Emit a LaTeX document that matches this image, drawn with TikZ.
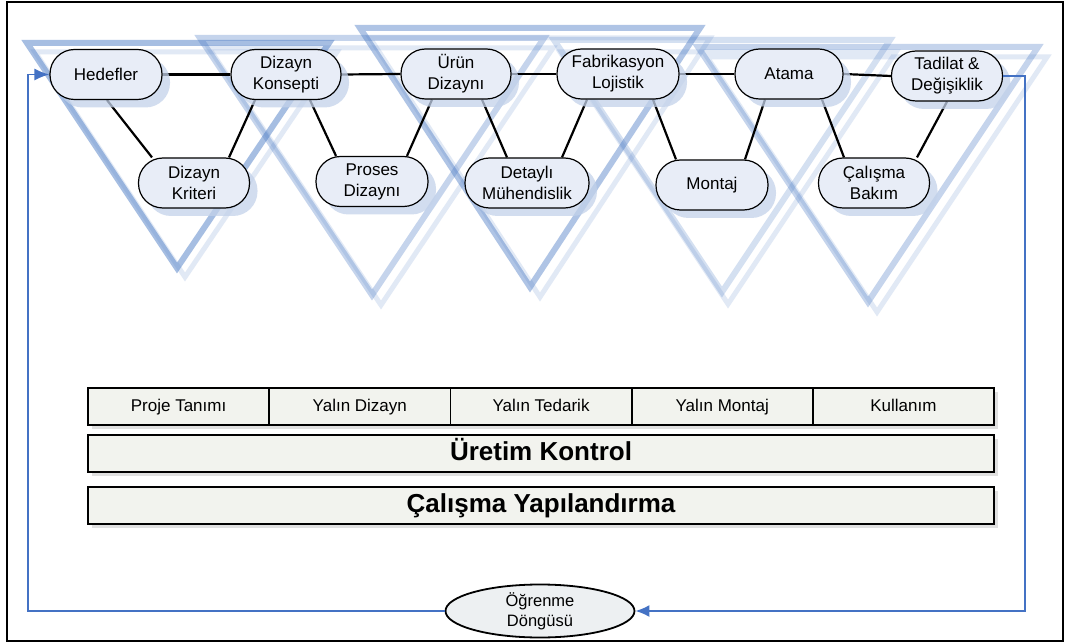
\documentclass[tikz,border=0pt]{standalone}
\usepackage{fontspec}
\setmainfont{Liberation Sans}
\usetikzlibrary{arrows.meta,shadows,shapes.geometric}
\definecolor{nodefill}{HTML}{E8EDF7}
\definecolor{shadowblue}{HTML}{C3D2EA}
\definecolor{barfill}{HTML}{F2F3EE}
\definecolor{ellfill}{HTML}{EDF0F2}
\definecolor{loopblue}{HTML}{4472C4}
\definecolor{triblue}{HTML}{4F7EC6}
\pgfdeclarelayer{bgl}
\pgfdeclarelayer{tri}
\pgfdeclarelayer{edges}
\pgfsetlayers{bgl,tri,edges,main}
\begin{document}
\begin{tikzpicture}[x=1pt,y=-1pt,
  stadium/.style={rectangle, rounded corners=24.5pt, draw=black, line width=1.2pt,
    fill=nodefill, minimum height=50pt, inner sep=0pt, align=center,
    font=\fontsize{17}{21}\selectfont,
    general shadow={fill=shadowblue, shadow xshift=8pt, shadow yshift=-8pt, opacity=.75}},
  conn/.style={line width=2.2pt, black},
  cell/.style={rectangle, draw=black, line width=1.8pt, fill=barfill, inner sep=0pt,
    minimum width=181.2pt, minimum height=37pt, font=\fontsize{17}{20}\selectfont,
    text height=12.5pt, text depth=3.5pt,
    general shadow={fill=black, shadow xshift=4pt, shadow yshift=-4pt, opacity=.12}},
  bigbar/.style={rectangle, draw=black, line width=2pt, fill=barfill, inner sep=0pt,
    minimum width=906pt, minimum height=37pt, font=\fontsize{26}{30}\selectfont\bfseries,
    text height=19pt, text depth=5pt,
    general shadow={fill=black, shadow xshift=4pt, shadow yshift=-4pt, opacity=.12}},
  loopline/.style={line width=1.8pt, loopblue},
  tri/.style={line width=6pt, triblue, line join=miter, draw opacity=#1},
  tricopy/.style={line width=5pt, triblue, line join=miter, draw opacity=.17},
]
\useasboundingbox (0,0) rectangle (1068,644);
\begin{pgfonlayer}{bgl}
\fill[white] (0,0) rectangle (1068,644);
\end{pgfonlayer}
\draw[line width=2pt] (7,2) rectangle (1063,641);

% triangles
\begin{pgfonlayer}{tri}
\draw[tricopy] (35,52) -- (337,52) -- (185,277) -- cycle;
\draw[tri=.5] (27,43) -- (329,43) -- (177,268) -- cycle;
\draw[tricopy] (209,48) -- (553,48) -- (381,305) -- cycle;
\draw[tri=.33] (200,38) -- (544,38) -- (372,295) -- cycle;
\draw[tricopy] (370,38) -- (710,38) -- (540,297) -- cycle;
\draw[tri=.45] (360,28) -- (700,28) -- (530,287) -- cycle;
\draw[tricopy] (560,52) -- (896,52) -- (728,304) -- cycle;
\draw[tri=.24] (554,40) -- (890,40) -- (722,292) -- cycle;
\draw[tricopy] (707,57) -- (1047,57) -- (877,312) -- cycle;
\draw[tri=.33] (698,47) -- (1038,47) -- (868,302) -- cycle;
\end{pgfonlayer}

% nodes
\node[stadium, minimum width=112pt] (h)   at (106,74.5) {Hedefler};
\node[stadium, minimum width=110pt] (kon) at (286,74.5) {Dizayn\\Konsepti};
\node[stadium, minimum width=110pt] (ur)  at (456,74) {Ürün\\Dizaynı};
\node[stadium, minimum width=122pt] (fab) at (618,74) {Fabrikasyon\\Lojistik};
\node[stadium, minimum width=108pt] (at)  at (789,74) {Atama};
\node[stadium, minimum width=111pt] (tad) at (947,76) {Tadilat \&\\Değişiklik};

\node[stadium, minimum width=111pt] (kri) at (194,183) {Dizayn\\Kriteri};
\node[stadium, minimum width=112pt] (pro) at (372,181.5) {Proses\\Dizaynı};
\node[stadium, minimum width=124pt] (det) at (527,183) {Detaylı\\Mühendislik};
\node[stadium, minimum width=112pt] (mon) at (712,185) {Montaj};
\node[stadium, minimum width=111pt] (cal) at (874,183) {Çalışma\\Bakım};

% connectors
\begin{pgfonlayer}{edges}
\draw[conn] (h.east) -- (kon.west);
\draw[conn] (kon.east) -- (ur.west);
\draw[conn] (ur.east) -- (fab.west);
\draw[conn] (fab.east) -- (at.west);
\draw[conn] (at.east) -- (tad.west);
\draw[conn] ([xshift=1pt]h.south) -- ([xshift=-42pt]kri.north);
\draw[conn] ([xshift=35pt]kri.north) -- ([xshift=-31pt]kon.south);
\draw[conn] ([xshift=24pt]kon.south) -- ([xshift=-36pt]pro.north);
\draw[conn] ([xshift=35pt]pro.north) -- ([xshift=-24pt]ur.south);
\draw[conn] ([xshift=26pt]ur.south) -- ([xshift=-20pt]det.north);
\draw[conn] ([xshift=35pt]det.north) -- ([xshift=-31pt]fab.south);
\draw[conn] ([xshift=35pt]fab.south) -- ([xshift=-36pt]mon.north);
\draw[conn] ([xshift=33pt]mon.north) -- ([xshift=-24pt]at.south);
\draw[conn] ([xshift=33pt]at.south) -- ([xshift=-30pt]cal.north);
\draw[conn] ([xshift=43pt]cal.north) -- (tad.south);
\end{pgfonlayer}

% bars
\node[cell] (c1) at (178.6,406.5) {Proje Tanımı};
\node[cell] (c2) at (359.8,406.5) {Yalın Dizayn};
\node[cell] (c3) at (541,406.5) {Yalın Tedarik};
\node[cell] (c4) at (722.2,406.5) {Yalın Montaj};
\node[cell] (c5) at (903.4,406.5) {Kullanım};
\node[bigbar] (uk) at (541,453.5) {Üretim Kontrol};
\node[bigbar] (cy) at (541,505) {Çalışma Yapılandırma};

% learning loop
\node[ellipse, draw=black, line width=1.8pt, fill=ellfill, minimum width=189pt,
  minimum height=53pt, inner sep=0pt, align=center,
  font=\fontsize{16.5}{20}\selectfont] (og) at (540,611) {Öğrenme\\Döngüsü};
\coordinate (rc) at (1025,611);
\coordinate (lc) at (28,74.5);
\draw[loopline, -{Latex[length=14pt,width=12pt]}] (tad.east) -| (rc) -- (og.east);
\draw[loopline, -{Latex[length=15pt,width=12pt]}] (og.west) -| (lc) -- (h.west);
\end{tikzpicture}
\end{document}
